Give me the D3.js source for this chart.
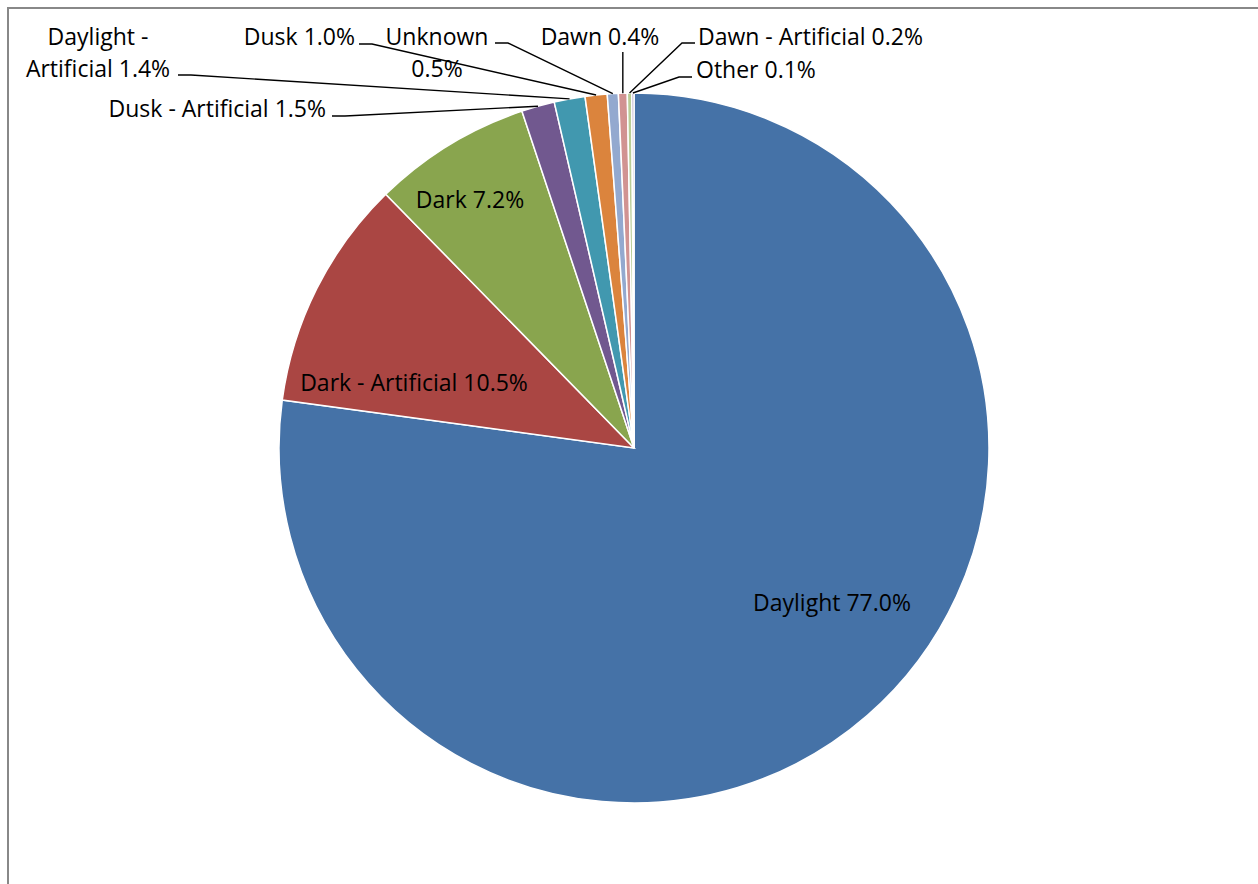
<!DOCTYPE html>
<html>
<head>
<meta charset="utf-8">
<script src="https://cdn.jsdelivr.net/npm/d3@7"></script>
<style>
  body { margin: 0; background: #fff; }
  svg { display: block; }
  text { font-family: "Open Sans", Lato, sans-serif; font-size: 23px; fill: #000; }
</style>
</head>
<body>
<svg width="1258" height="884"></svg>
<script>
// Slices, clockwise from 12 o'clock
var categories = ["Daylight", "Dark - Artificial", "Dark", "Dusk - Artificial", "Daylight - Artificial",
  "Dusk", "Unknown", "Dawn", "Dawn - Artificial", "Other"];
var shares = [77.0, 10.5, 7.2, 1.5, 1.4, 1.0, 0.5, 0.4, 0.2, 0.1];
var colors = ["#4572a7", "#aa4643", "#89a54e", "#71588f", "#4198af",
  "#db843d", "#93a9cf", "#d19392", "#b9cd96", "#a99bbd"];

// label text lines per slice
var labelLines = [
  ["Daylight 77.0%"], ["Dark - Artificial 10.5%"], ["Dark 7.2%"], ["Dusk - Artificial 1.5%"],
  ["Daylight -", "Artificial 1.4%"], ["Dusk 1.0%"], ["Unknown", "0.5%"], ["Dawn 0.4%"],
  ["Dawn - Artificial 0.2%"], ["Other 0.1%"]
];

var svg = d3.select("svg"),
  cx = 634, cy = 448, r = 355;

// chart border (only top/left visible in the frame)
svg.append("rect")
  .attr("x", 8).attr("y", 8)
  .attr("width", 1400).attr("height", 1000)
  .attr("fill", "none")
  .attr("stroke", "#888").attr("stroke-width", 2);

var data = categories.map((c, i) => ({ name: c, value: shares[i], color: colors[i], lines: labelLines[i] }));

var pie = d3.pie().sort(null).value((d) => d.value);
var arc = d3.arc().innerRadius(0).outerRadius(r);
var arcs = pie(data);

var g = svg.append("g").attr("transform", "translate(" + cx + "," + cy + ")");

g.selectAll("path")
  .data(arcs)
  .enter().append("path")
  .attr("d", arc)
  .attr("fill", (d) => d.data.color)
  .attr("stroke", "#fff")
  .attr("stroke-width", 1.5);

// label layout relative to the center: text position/anchor,
// outside labels also get the leader start point (lx, ly)
var layout = [
  { x: 198, y: 163, anchor: "middle" },
  { x: -220, y: -57, anchor: "middle" },
  { x: -164, y: -240, anchor: "middle" },
  { x: -308, y: -331, anchor: "end", lx: -302, ly: -332 },
  { x: -536, y: -403, anchor: "middle", lx: -456, ly: -373 },
  { x: -279, y: -403, anchor: "end", lx: -275, ly: -404 },
  { x: -197, y: -403, anchor: "middle", lx: -139, ly: -405 },
  { x: -34, y: -403, anchor: "middle", lx: -13, ly: -396 },
  { x: 64, y: -403, anchor: "start", lx: 61, ly: -405 },
  { x: 62, y: -370, anchor: "start", lx: 58, ly: -371 }
];

var labels = g.append("g");

arcs.forEach(function (d, i) {
  var L = layout[i];
  var t = labels.append("text")
    .attr("text-anchor", L.anchor)
    .attr("x", L.x).attr("y", L.y);
  d.data.lines.forEach(function (s, j) {
    t.append("tspan").attr("x", L.x).attr("dy", j ? 32 : 0).text(s);
  });

  if (L.lx !== undefined) {
    var mid = (d.startAngle + d.endAngle) / 2;
    var ex = r * Math.sin(mid), ey = -r * Math.cos(mid);
    var kx = L.anchor == "start" ? L.lx - 13 : L.lx + 13;
    // Dawn 0.4% has a straight drop, the others a short horizontal stub first
    var pts = i == 7 ? [[ex, L.ly], [ex, ey]] : [[L.lx, L.ly], [kx, L.ly], [ex, ey]];
    labels.append("path")
      .attr("d", d3.line()(pts))
      .attr("fill", "none")
      .attr("stroke", "#000")
      .attr("stroke-width", 1.4);
  }
});
</script>
</body>
</html>
